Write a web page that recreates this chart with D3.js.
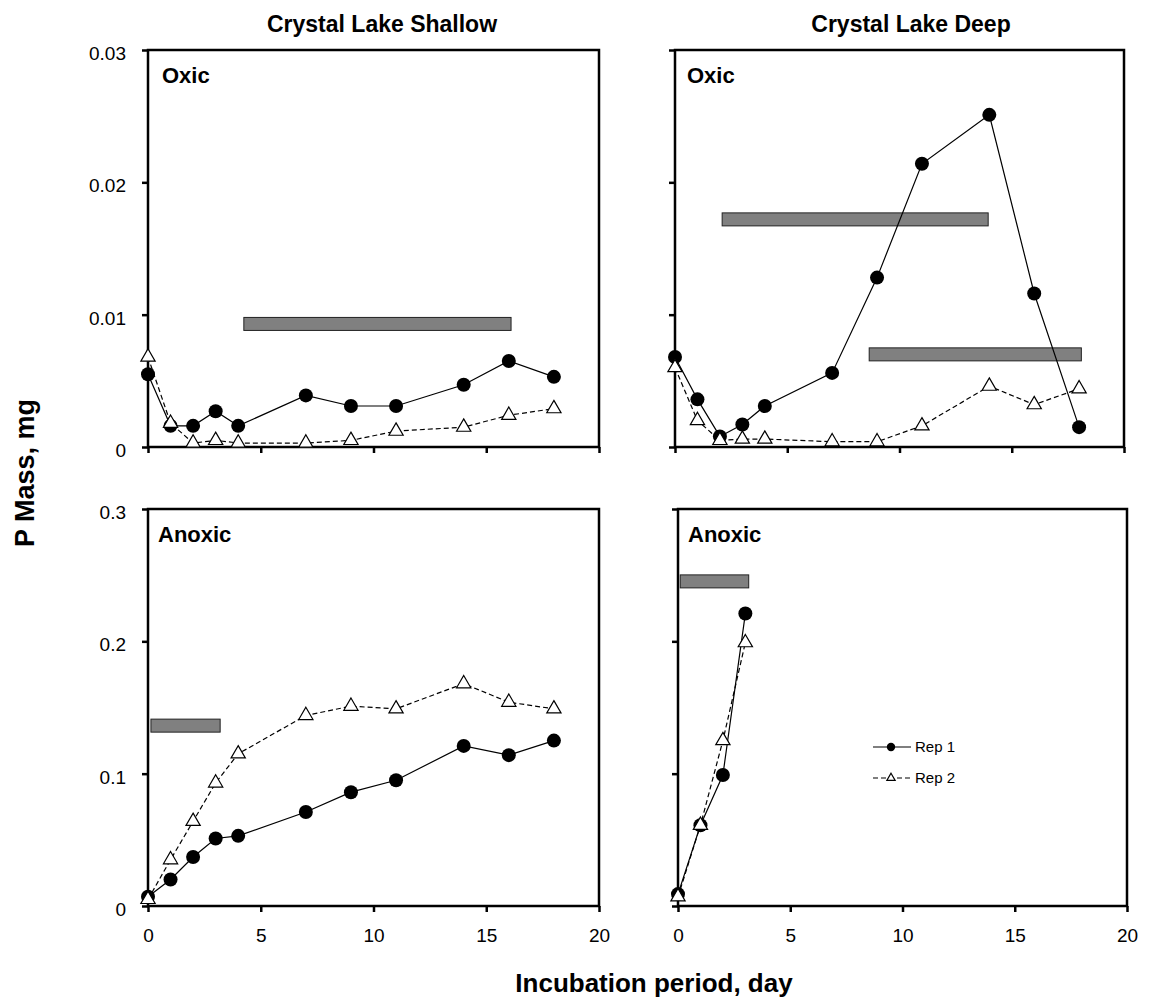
<!DOCTYPE html>
<html>
<head>
<meta charset="utf-8">
<script src="https://cdn.jsdelivr.net/npm/d3@7"></script>
<style>
  body { margin: 0; background: #fff; }
  svg text { font-family: 'Liberation Sans', Arial, sans-serif; }
</style>
</head>
<body>
<div id="chart"></div>
<script>
// sampling days
const days = [0, 1, 2, 3, 4, 7, 9, 11, 14, 16, 18];
const daysDeepAnoxic = [0, 1, 2, 3];

// P mass, mg
const shallowOxicRep1 = [0.0055, 0.0016, 0.0016, 0.0027, 0.0016, 0.0039, 0.0031, 0.0031, 0.0047, 0.0065, 0.0053];
const shallowOxicRep2 = [0.0068, 0.0018, 0.0003, 0.0005, 0.0003, 0.0003, 0.0005, 0.0012, 0.0015, 0.0024, 0.0029];
const deepOxicRep1 = [0.0068, 0.0036, 0.0008, 0.0017, 0.0031, 0.0056, 0.0128, 0.0214, 0.0251, 0.0116, 0.0015];
const deepOxicRep2 = [0.0060, 0.0020, 0.0005, 0.0006, 0.0006, 0.0004, 0.0004, 0.0016, 0.0046, 0.0032, 0.0044];
const shallowAnoxicRep1 = [0.007, 0.020, 0.037, 0.051, 0.053, 0.071, 0.086, 0.095, 0.121, 0.114, 0.125];
const shallowAnoxicRep2 = [0.005, 0.035, 0.064, 0.093, 0.115, 0.144, 0.151, 0.149, 0.168, 0.154, 0.149];
const deepAnoxicRep1 = [0.009, 0.061, 0.099, 0.221];
const deepAnoxicRep2 = [0.007, 0.061, 0.125, 0.199];

// grey bars: [start day, end day, level]
const barsShallowOxic = [[4.25, 16.1, 0.0093]];
const barsDeepOxic = [[2.1, 13.95, 0.0172], [8.65, 18.1, 0.0070]];
const barsShallowAnoxic = [[0.13, 3.2, 0.1363]];
const barsDeepAnoxic = [[0.1, 3.15, 0.2453]];

const xTicks = [0, 5, 10, 15, 20];
const yTicksOxic = [0, 0.01, 0.02, 0.03];
const yTicksAnoxic = [0, 0.1, 0.2, 0.3];
const yTickLabelsOxic = ['0', '0.01', '0.02', '0.03'];
const yTickLabelsAnoxic = ['0', '0.1', '0.2', '0.3'];

const seriesNames = ['Rep 1', 'Rep 2'];

const width = 1163, height = 1003;

const svg = d3.select('#chart').append('svg')
    .attr('width', width)
    .attr('height', height);

const panels = [
    { x: [148, 599], y: [447, 50], yMax: 0.03, yTicks: yTicksOxic, yLabels: yTickLabelsOxic, xLabels: false,
      days: days, rep1: shallowOxicRep1, rep2: shallowOxicRep2, bars: barsShallowOxic, label: 'Oxic', labelDx: 14 },
    { x: [675, 1124], y: [447, 50], yMax: 0.03, yTicks: yTicksOxic, yLabels: null, xLabels: false,
      days: days, rep1: deepOxicRep1, rep2: deepOxicRep2, bars: barsDeepOxic, label: 'Oxic', labelDx: 12 },
    { x: [148, 599], y: [906, 509], yMax: 0.3, yTicks: yTicksAnoxic, yLabels: yTickLabelsAnoxic, xLabels: true,
      days: days, rep1: shallowAnoxicRep1, rep2: shallowAnoxicRep2, bars: barsShallowAnoxic, label: 'Anoxic', labelDx: 10 },
    { x: [678, 1127], y: [906, 509], yMax: 0.3, yTicks: yTicksAnoxic, yLabels: null, xLabels: true,
      days: daysDeepAnoxic, rep1: deepAnoxicRep1, rep2: deepAnoxicRep2, bars: barsDeepAnoxic, label: 'Anoxic', labelDx: 10, legend: true }
];

const triangle = d3.symbol(d3.symbolTriangle, 88);
const smallTriangle = d3.symbol(d3.symbolTriangle, 30);

panels.forEach(p => {
    const x = d3.scaleLinear().domain([0, 20]).range(p.x);
    const y = d3.scaleLinear().domain([0, p.yMax]).range(p.y);
    const g = svg.append('g');

    // axes (ticks only, frame drawn below)
    const yAxis = d3.axisLeft(y).tickValues(p.yTicks).tickSize(6).tickPadding(16)
        .tickFormat((d, i) => p.yLabels ? p.yLabels[i] : '');
    g.append('g')
        .attr('transform', `translate(${p.x[0]},0)`)
        .call(yAxis)
        .call(a => a.select('.domain').remove())
        .call(a => a.selectAll('line').attr('stroke-width', 2.5))
        .call(a => a.selectAll('text').attr('font-size', 19).attr('dy', '0.5em').attr('fill', '#000'));

    const xAxis = d3.axisBottom(x).tickValues(xTicks).tickSize(6).tickPadding(17)
        .tickFormat(d => p.xLabels ? d : '');
    g.append('g')
        .attr('transform', `translate(0,${p.y[0]})`)
        .call(xAxis)
        .call(a => a.select('.domain').remove())
        .call(a => a.selectAll('line').attr('stroke-width', 2.5))
        .call(a => a.selectAll('text').attr('font-size', 19).attr('fill', '#000'));

    g.append('rect')
        .attr('x', p.x[0]).attr('y', p.y[1])
        .attr('width', p.x[1] - p.x[0]).attr('height', p.y[0] - p.y[1])
        .attr('fill', 'none').attr('stroke', '#000').attr('stroke-width', 2.5);

    // grey bars
    g.selectAll('.bar')
        .data(p.bars)
        .enter().append('rect')
        .attr('class', 'bar')
        .attr('x', d => x(d[0]))
        .attr('y', d => y(d[2]) - 6.5)
        .attr('width', d => x(d[1]) - x(d[0]))
        .attr('height', 13)
        .attr('fill', '#808080')
        .attr('stroke', '#222')
        .attr('stroke-width', 1);

    const line = d3.line().x(d => x(d[0])).y(d => y(d[1]));
    const pts1 = p.days.map((d, i) => [d, p.rep1[i]]);
    const pts2 = p.days.map((d, i) => [d, p.rep2[i]]);

    g.append('path').datum(pts2)
        .attr('fill', 'none').attr('stroke', '#000').attr('stroke-width', 1.2)
        .attr('stroke-dasharray', '5,3')
        .attr('d', line);
    g.append('path').datum(pts1)
        .attr('fill', 'none').attr('stroke', '#000').attr('stroke-width', 1.2)
        .attr('d', line);

    g.selectAll('.dot')
        .data(pts1)
        .enter().append('circle')
        .attr('class', 'dot')
        .attr('cx', d => x(d[0]))
        .attr('cy', d => y(d[1]))
        .attr('r', 7)
        .attr('fill', '#000');

    g.selectAll('.tri')
        .data(pts2)
        .enter().append('path')
        .attr('class', 'tri')
        .attr('transform', d => `translate(${x(d[0])},${y(d[1])})`)
        .attr('d', triangle)
        .attr('fill', '#fff')
        .attr('stroke', '#000')
        .attr('stroke-width', 1.2);

    g.append('text')
        .attr('x', p.x[0] + p.labelDx)
        .attr('y', p.y[1] + 33)
        .attr('font-size', 22)
        .attr('font-weight', 'bold')
        .text(p.label);

    if (p.legend) {
        const lg = g.append('g').attr('transform', 'translate(873,747)');
        lg.append('line').attr('x1', 0).attr('x2', 38).attr('y1', 0).attr('y2', 0)
            .attr('stroke', '#000').attr('stroke-width', 1.2);
        lg.append('circle').attr('cx', 18).attr('cy', 0).attr('r', 4.2).attr('fill', '#000');
        lg.append('text').attr('x', 42).attr('y', 0).attr('dy', '0.35em')
            .attr('font-size', 15).text(seriesNames[0]);

        lg.append('line').attr('x1', 0).attr('x2', 38).attr('y1', 31).attr('y2', 31)
            .attr('stroke', '#000').attr('stroke-width', 1.2).attr('stroke-dasharray', '5,3');
        lg.append('path').attr('transform', 'translate(18,31)').attr('d', smallTriangle)
            .attr('fill', '#fff').attr('stroke', '#000').attr('stroke-width', 1.2);
        lg.append('text').attr('x', 42).attr('y', 31).attr('dy', '0.35em')
            .attr('font-size', 15).text(seriesNames[1]);
    }
});

// column titles
svg.append('text').attr('x', 382).attr('y', 32).attr('text-anchor', 'middle')
    .attr('font-size', 23).attr('font-weight', 'bold').text('Crystal Lake Shallow');
svg.append('text').attr('x', 911).attr('y', 32).attr('text-anchor', 'middle')
    .attr('font-size', 23).attr('font-weight', 'bold').text('Crystal Lake Deep');

// axis titles
svg.append('text').attr('x', 654).attr('y', 992).attr('text-anchor', 'middle')
    .attr('font-size', 26).attr('font-weight', 'bold').text('Incubation period, day');
svg.append('text').attr('transform', 'translate(34,473) rotate(-90)').attr('text-anchor', 'middle')
    .attr('font-size', 27).attr('font-weight', 'bold').text('P Mass, mg');
</script>
</body>
</html>
